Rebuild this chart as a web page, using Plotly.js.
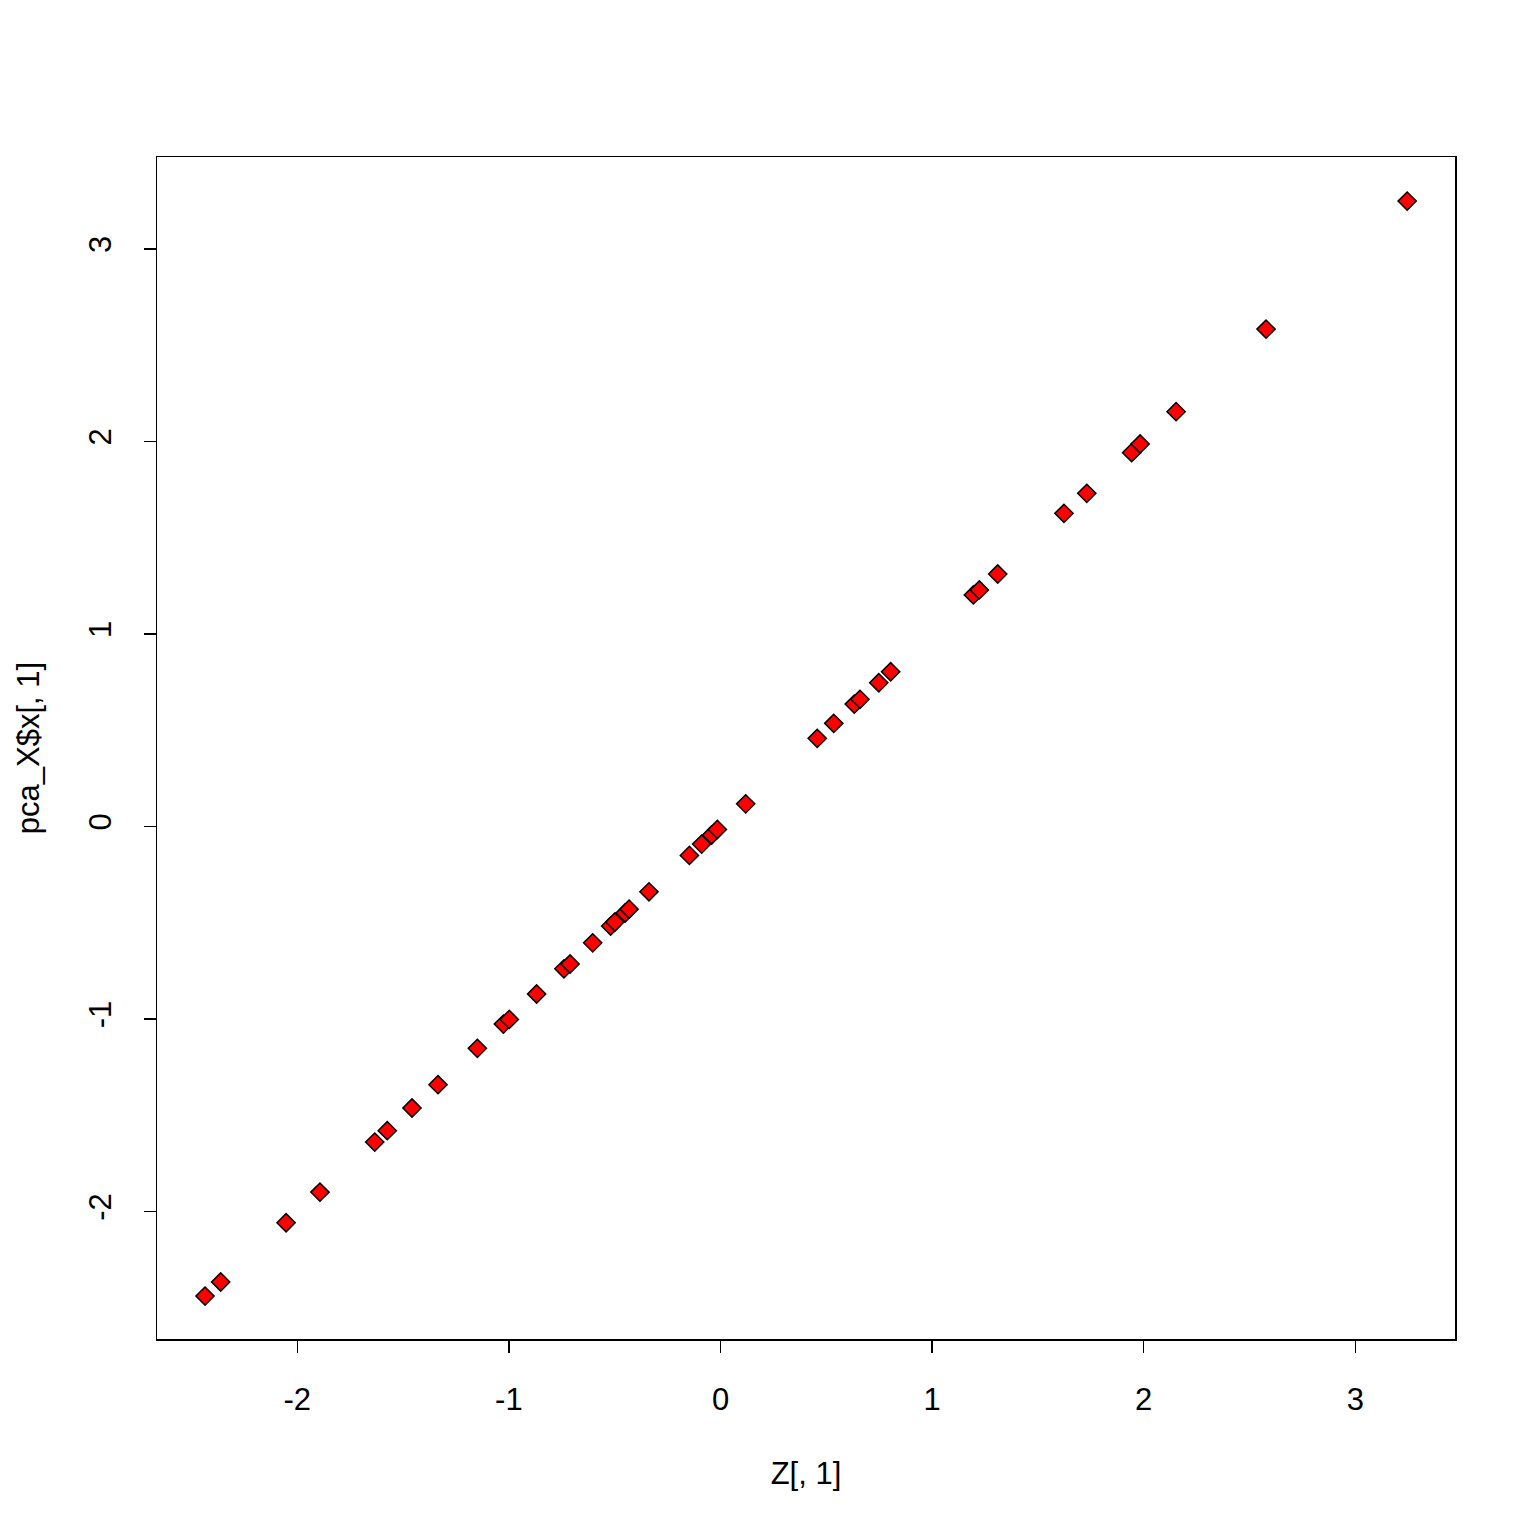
<!DOCTYPE html>
<html>
<head>
<meta charset="utf-8">
<script src="https://cdn.plot.ly/plotly-3.0.1.min.js"></script>
<style>html,body{margin:0;padding:0;background:#fff;}#chart{width:1536px;height:1536px;}</style>
</head>
<body>
<div id="chart"></div>
<script>
const zValues = [-2.436, -2.362, -2.053, -1.893, -1.634, -1.575, -1.458, -1.335, -1.149, -1.026, -0.998,
  -0.869, -0.740, -0.711, -0.604, -0.519, -0.499, -0.451, -0.432, -0.338, -0.147, -0.089, -0.042, -0.015,
  0.119, 0.457, 0.535, 0.632, 0.659, 0.748, 0.804, 1.195, 1.223, 1.310, 1.623, 1.731, 1.943, 1.983,
  2.153, 2.578, 3.245];
const pcaValues = [-2.439, -2.366, -2.058, -1.899, -1.639, -1.580, -1.462, -1.341, -1.152, -1.026, -1.002,
  -0.870, -0.739, -0.714, -0.604, -0.517, -0.496, -0.449, -0.429, -0.339, -0.150, -0.091, -0.044, -0.015,
  0.118, 0.458, 0.536, 0.636, 0.661, 0.747, 0.804, 1.203, 1.229, 1.312, 1.627, 1.731, 1.942, 1.987,
  2.155, 2.584, 3.249];
const xTicks = [-2, -1, 0, 1, 2, 3];
const yTicks = [-2, -1, 0, 1, 2, 3];
const xLabel = "Z[, 1]";
const yLabel = "pca_X$x[, 1]";

const font = {family: "Liberation Sans, Arial, sans-serif", size: 31, color: "#000"};

const trace = {
  x: zValues, y: pcaValues, type: "scatter", mode: "markers",
  marker: {symbol: "diamond", size: 14, color: "#ff0000", line: {color: "#000", width: 1.5}},
  hoverinfo: "skip"
};

const layout = {
  width: 1536, height: 1536,
  paper_bgcolor: "#fff", plot_bgcolor: "#fff",
  margin: {l: 157, r: 81, t: 157, b: 197},
  showlegend: false,
  font: font,
  xaxis: {
    range: [-2.663, 3.471], tickvals: xTicks, ticktext: xTicks.map(String),
    showgrid: false, zeroline: false, showline: true, mirror: true, linecolor: "#000", linewidth: 1.5,
    ticks: "outside", ticklen: 12, tickwidth: 1.5, tickcolor: "#000", ticklabelstandoff: 20,
    tickfont: font, automargin: false,
    title: {text: xLabel, font: font, standoff: 46}
  },
  yaxis: {
    range: [-2.662, 3.478], tickvals: yTicks, ticktext: yTicks.map(String), tickangle: -90,
    showgrid: false, zeroline: false, showline: true, mirror: true, linecolor: "#000", linewidth: 1.5,
    ticks: "outside", ticklen: 12, tickwidth: 1.5, tickcolor: "#000", ticklabelstandoff: 20,
    tickfont: font, automargin: false,
    title: {text: yLabel, font: font, standoff: 34}
  }
};

Plotly.newPlot("chart", [trace], layout, {staticPlot: true});
</script>
</body>
</html>
